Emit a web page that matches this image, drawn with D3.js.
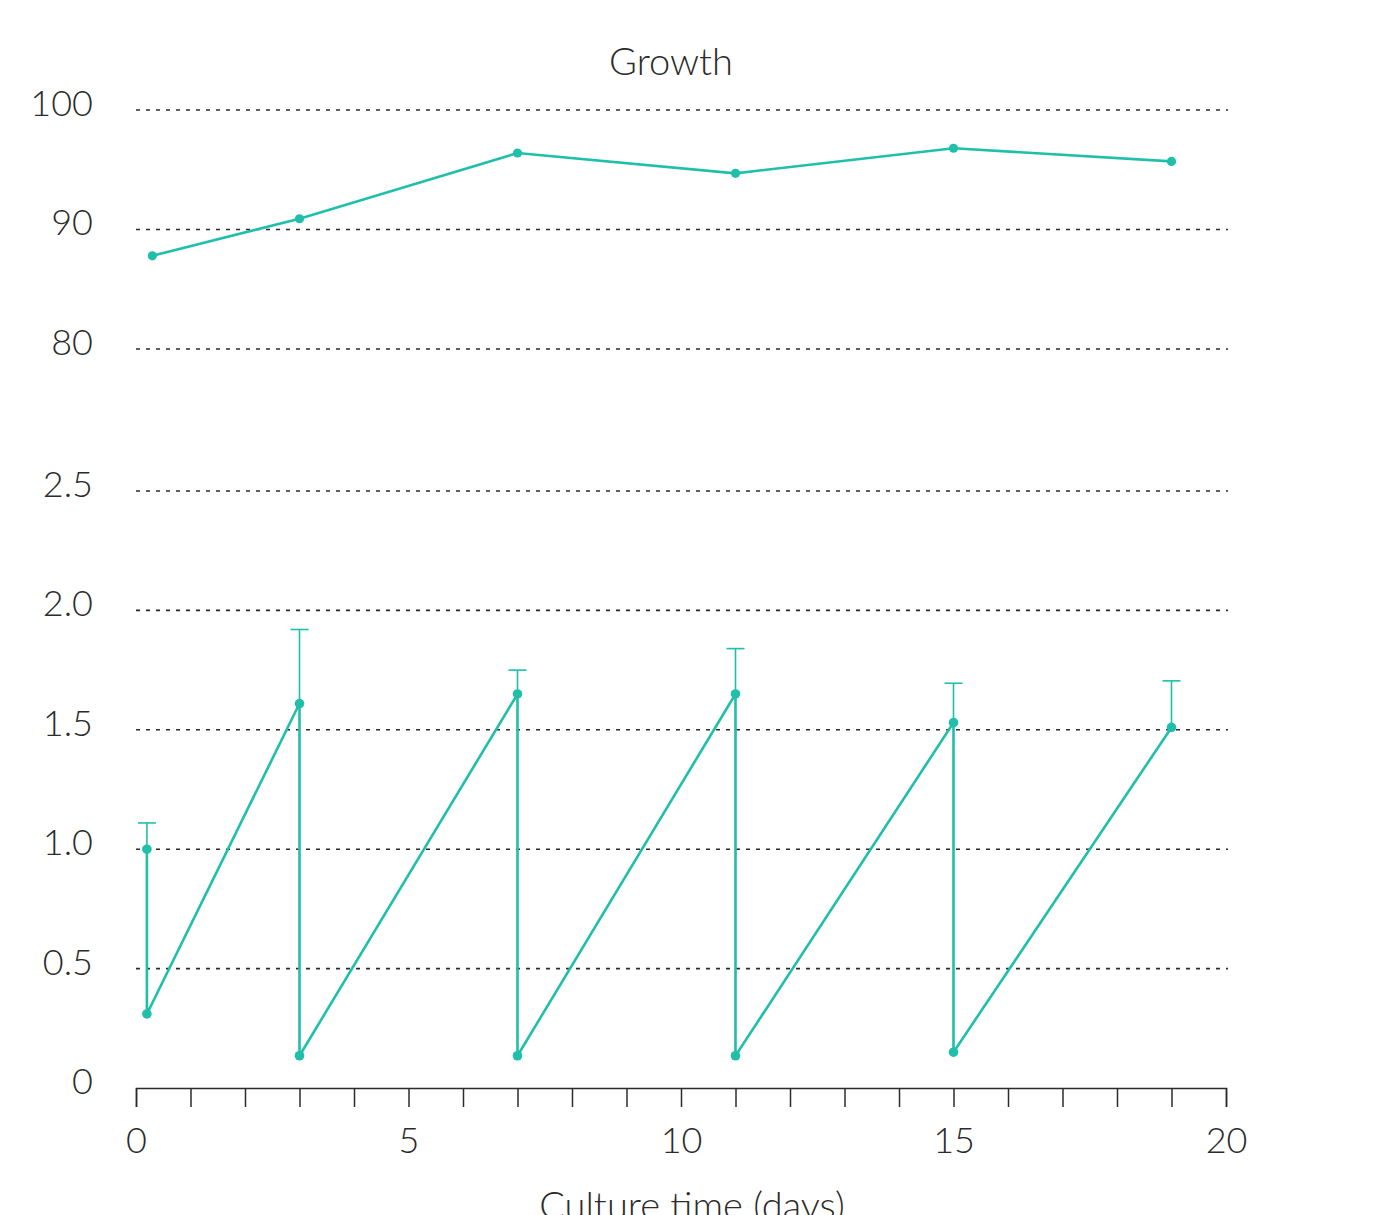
<!DOCTYPE html>
<html>
<head>
<meta charset="utf-8">
<script src="https://cdn.jsdelivr.net/npm/d3@7"></script>
<style>
  html, body { margin: 0; padding: 0; background: #fff; }
  svg { display: block; font-family: Lato, "Open Sans", sans-serif; font-weight: 300; }
</style>
</head>
<body>
<svg id="chart" width="1385" height="1215"></svg>
<script>
// ---- Data ----
const title = "Growth";
const xLabel = "Culture time (days)";
const xTicksMajor = [0, 5, 10, 15, 20];

// Upper panel (viability %)
const topDays = [0.3, 3, 7, 11, 15, 19];
const topValues = [87.8, 90.9, 96.4, 94.7, 96.8, 95.7];
const topTicks = [80, 90, 100];

// Lower panel (cell density, sawtooth with passaging)
const sawDays = [0.2, 0.2, 3, 3, 7, 7, 11, 11, 15, 15, 19];
const sawValues = [1.0, 0.31, 1.61, 0.135, 1.65, 0.135, 1.65, 0.135, 1.53, 0.15, 1.51];
const errDays = [0.2, 3, 7, 11, 15, 19];
const errMean = [1.0, 1.61, 1.65, 1.65, 1.53, 1.51];
const errUpper = [1.11, 1.92, 1.75, 1.84, 1.695, 1.705];
const botTicks = [0, 0.5, 1.0, 1.5, 2.0, 2.5];

// ---- Layout ----
const teal = "#20bfa9";
const ink = "#2b2b2b";
const svg = d3.select("#chart");

const x = d3.scaleLinear().domain([0, 20]).range([136, 1226]);
const yTop = d3.scaleLinear().domain([80, 100]).range([349, 110]);
const yBot = d3.scaleLinear().domain([0, 2.5]).range([1088, 491]);

// Gridlines
const gridG = svg.append("g");
function grid(scale, ticks) {
  gridG.selectAll(null).data(ticks).enter().append("line")
    .attr("x1", x(0)).attr("x2", x(20) + 2)
    .attr("y1", d => scale(d)).attr("y2", d => scale(d))
    .attr("stroke", ink).attr("stroke-width", 1.6)
    .attr("stroke-dasharray", "4,6");
}
grid(yTop, topTicks);
grid(yBot, botTicks.filter(d => d > 0));

// Y labels
function ylabels(scale, ticks, fmt) {
  svg.append("g").selectAll(null).data(ticks).enter().append("text")
    .attr("x", 93).attr("y", d => scale(d) - 3)
    .attr("text-anchor", "end").attr("dominant-baseline", "middle")
    .attr("font-size", 36).attr("fill", ink)
    .text(fmt);
}
ylabels(yTop, topTicks, d => String(d));
ylabels(yBot, botTicks, d => d === 0 ? "0" : d3.format(".1f")(d));

// X axis
const xAxis = d3.axisBottom(x)
  .tickValues(d3.range(0, 21, 1))
  .tickSize(19)
  .tickPadding(20)
  .tickFormat(d => xTicksMajor.includes(d) ? String(d) : "");
const gx = svg.append("g").attr("transform", `translate(0,${yBot(0)})`).call(xAxis);
gx.select(".domain").attr("stroke", ink).attr("stroke-width", 1.5);
gx.selectAll(".tick line").attr("stroke", ink).attr("stroke-width", 1.5);
gx.selectAll(".tick text").attr("font-size", 36).attr("fill", ink)
  .attr("font-family", "Lato, sans-serif").attr("font-weight", 300);

// Title & axis label
svg.append("text").attr("x", 671).attr("y", 75).attr("text-anchor", "middle")
  .attr("font-size", 38).attr("fill", ink).text(title);
svg.append("text").attr("x", 692).attr("y", 1219).attr("text-anchor", "middle")
  .attr("font-size", 38).attr("fill", ink).text(xLabel);

// Top series
const topData = topDays.map((d, i) => [d, topValues[i]]);
svg.append("path").datum(topData)
  .attr("fill", "none").attr("stroke", teal).attr("stroke-width", 2.6)
  .attr("d", d3.line().x(d => x(d[0])).y(d => yTop(d[1])));
svg.append("g").selectAll(null).data(topData).enter().append("circle")
  .attr("cx", d => x(d[0])).attr("cy", d => yTop(d[1])).attr("r", 4.6).attr("fill", teal);

// Error bars (upper only)
const errG = svg.append("g").attr("stroke", teal).attr("stroke-width", 1.6);
errDays.forEach((d, i) => {
  errG.append("line").attr("x1", x(d)).attr("x2", x(d))
    .attr("y1", yBot(errMean[i])).attr("y2", yBot(errUpper[i]));
  errG.append("line").attr("x1", x(d) - 9).attr("x2", x(d) + 9)
    .attr("y1", yBot(errUpper[i])).attr("y2", yBot(errUpper[i]));
});

// Bottom sawtooth series
const sawData = sawDays.map((d, i) => [d, sawValues[i]]);
svg.append("path").datum(sawData)
  .attr("fill", "none").attr("stroke", teal).attr("stroke-width", 2.6)
  .attr("d", d3.line().x(d => x(d[0])).y(d => yBot(d[1])));
svg.append("g").selectAll(null).data(sawData).enter().append("circle")
  .attr("cx", d => x(d[0])).attr("cy", d => yBot(d[1])).attr("r", 4.8).attr("fill", teal);
</script>
</body>
</html>
